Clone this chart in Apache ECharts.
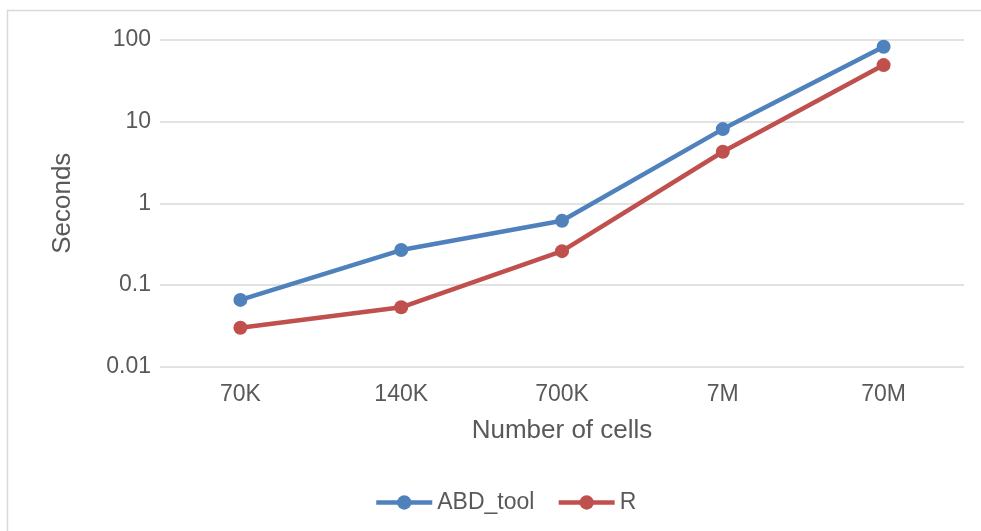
<!DOCTYPE html>
<html>
<head>
<meta charset="utf-8">
<script src="https://cdn.jsdelivr.net/npm/echarts@6/dist/echarts.min.js"></script>
<style>html,body{margin:0;padding:0;background:#fff}#c{width:981px;height:531px}</style>
</head>
<body>
<div id="c"></div>
<script>
const categories = ['70K', '140K', '700K', '7M', '70M'];
const abdTool = [0.066, 0.268, 0.61, 8.05, 81.5];
const rValues = [0.0302, 0.0536, 0.26, 4.26, 48.7];
const yTicks = [0.01, 0.1, 1, 10, 100];

const chart = echarts.init(document.getElementById('c'), null, {renderer: 'canvas'});
const font = 'Liberation Sans, Arial, sans-serif';
chart.setOption({
  animation: false,
  backgroundColor: '#fff',
  graphic: [{
    type: 'rect',
    shape: {x: 7.5, y: 10.5, width: 990, height: 540},
    style: {fill: 'none', stroke: '#d9d9d9', lineWidth: 1.5},
    silent: true
  }],
  grid: {left: 160, right: 17, top: 39.5, bottom: 164},
  xAxis: {
    type: 'category',
    data: categories,
    boundaryGap: true,
    axisLine: {show: false},
    axisTick: {show: false},
    axisLabel: {color: '#595959', fontSize: 23, fontFamily: font, margin: 16},
    name: 'Number of cells',
    nameLocation: 'middle',
    nameGap: 51,
    nameTextStyle: {color: '#595959', fontSize: 26, fontFamily: font}
  },
  yAxis: {
    type: 'log',
    logBase: 10,
    min: yTicks[0],
    max: yTicks[yTicks.length - 1],
    axisLine: {show: false},
    axisTick: {show: false},
    splitLine: {lineStyle: {color: '#d9d9d9', width: 1.5}},
    axisLabel: {
      color: '#595959', fontSize: 23, fontFamily: font, margin: 9,
      formatter: function (v) { return String(+v.toPrecision(6)); }
    },
    name: 'Seconds',
    nameLocation: 'middle',
    nameGap: 84,
    nameRotate: 90,
    nameTextStyle: {color: '#595959', fontSize: 26, fontFamily: font}
  },
  legend: {
    top: 486,
    left: 369,
    itemWidth: 56,
    itemHeight: 18,
    itemGap: 22,
    lineStyle: {width: 4.5},
    textStyle: {color: '#595959', fontSize: 23, fontFamily: font},
    data: ['ABD_tool', 'R']
  },
  series: [
    {
      name: 'ABD_tool', type: 'line', data: abdTool,
      symbol: 'circle', symbolSize: 14,
      lineStyle: {color: '#4F81BD', width: 4.5},
      itemStyle: {color: '#4F81BD'}
    },
    {
      name: 'R', type: 'line', data: rValues,
      symbol: 'circle', symbolSize: 14,
      lineStyle: {color: '#C0504D', width: 4.5},
      itemStyle: {color: '#C0504D'}
    }
  ]
});
</script>
</body>
</html>
